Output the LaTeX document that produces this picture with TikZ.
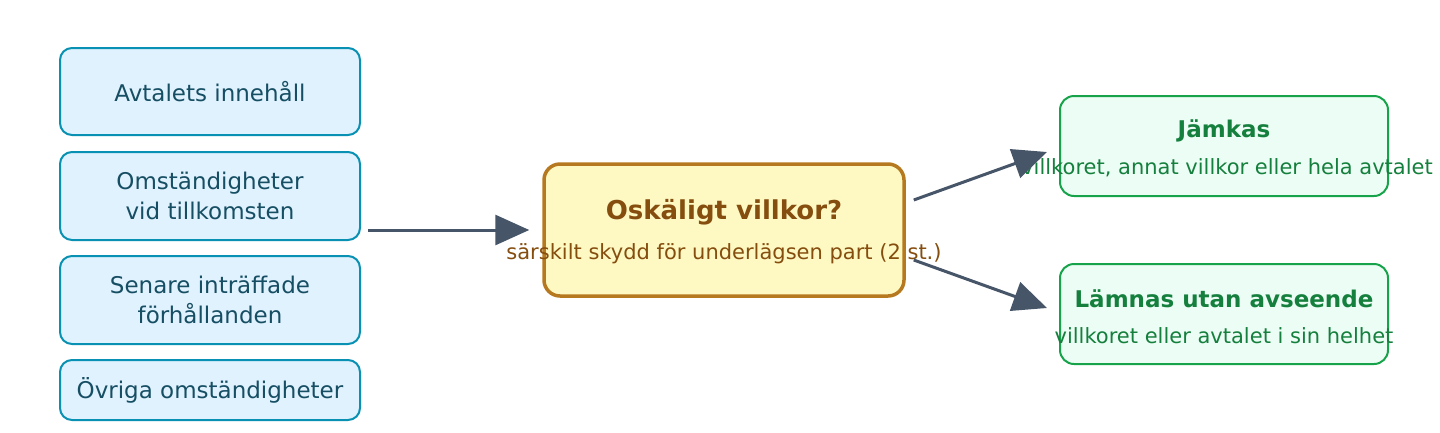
\documentclass[tikz,border=0pt]{standalone}
\usepackage{fontspec}
\setmainfont{DejaVu Sans}
\usetikzlibrary{arrows.meta}
\definecolor{factorline}{HTML}{0891B2}
\definecolor{factorfill}{HTML}{E0F2FE}
\definecolor{factortext}{HTML}{164E63}
\definecolor{testline}{HTML}{B7791F}
\definecolor{testfill}{HTML}{FEF9C3}
\definecolor{testtext}{HTML}{854D0E}
\definecolor{outline}{HTML}{16A34A}
\definecolor{outfill}{HTML}{ECFDF5}
\definecolor{outtext}{HTML}{15803D}
\definecolor{flowcol}{HTML}{475569}

\begin{document}
\begin{tikzpicture}[x=1pt,y=-1pt,>={Triangle[length=34pt,width=30pt]}]
    \tikzstyle{factor}=[draw=factorline, fill=factorfill, line width=2pt, rounded corners=12pt, minimum width=300pt, inner sep=0pt, align=center, text=factortext, font=\fontsize{23}{30}\selectfont]
    \tikzstyle{test}=[draw=testline, fill=testfill, line width=3.5pt, rounded corners=16pt, minimum width=360pt, minimum height=132pt]
    \tikzstyle{outcome}=[draw=outline, fill=outfill, line width=2pt, rounded corners=14pt, minimum width=328pt, minimum height=100pt]
    \tikzstyle{head}=[font=\fontsize{23}{28}\selectfont\bfseries]
    \tikzstyle{sub}=[font=\fontsize{21}{26}\selectfont]
    \tikzstyle{flow}=[->, draw=flowcol, line width=3pt]

    \useasboundingbox (0,0) rectangle (1440,432);

	\foreach \n/\y/\h/\t in {1/91.5/87/{Avtalets innehåll}, 2/196/88/{Omständigheter\\vid tillkomsten}, 3/300/88/{Senare inträffade\\förhållanden}, 4/390/60/{Övriga omständigheter}}{
		\node[factor, minimum height=\h pt] (F-\n) at (210,\y) {\t};
	}

	\node[test] (q) at (724,230) {};
	\node[head, font=\fontsize{26}{30}\selectfont\bfseries, text=testtext] (q-head) at (724,212) {Oskäligt villkor?};
	\node[sub, text=testtext] (q-sub) at (724,254) {särskilt skydd för underlägsen part (2 st.)};

	\node[outcome] (J) at (1224,146) {};
	\node[head, text=outtext] (J-head) at (1224,131) {Jämkas};
	\node[sub, text=outtext] (J-sub) at (1227,168) {villkoret, annat villkor eller hela avtalet};

	\node[outcome] (L) at (1224,314) {};
	\node[head, text=outtext] (L-head) at (1224,299) {Lämnas utan avseende};
	\node[sub, text=outtext] (L-sub) at (1224,336) {villkoret eller avtalet i sin helhet};

	\coordinate (in) at (368,230);
	\draw[flow] (in) -- ([xshift=-13pt]q.west);
	\draw[flow] ([xshift=8pt,yshift=30pt]q.east) -- ([xshift=-12pt,yshift=-6pt]J.west);
	\draw[flow] ([xshift=8pt,yshift=-30pt]q.east) -- ([xshift=-12pt,yshift=6pt]L.west);
\end{tikzpicture}
\end{document}
